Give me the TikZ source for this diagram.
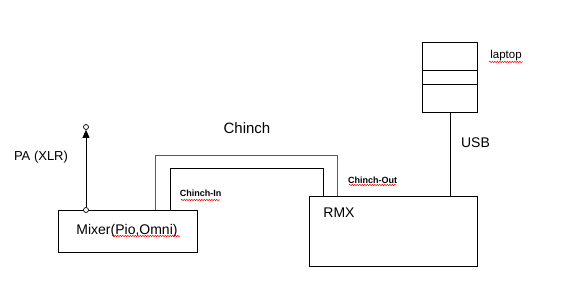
\documentclass[tikz,border=0pt]{standalone}
\usepackage{fontspec}
\setmainfont{Liberation Sans}
\usetikzlibrary{arrows.meta,decorations.pathmorphing}
\begin{document}
\begin{tikzpicture}[x=1pt,y=-1pt,
  box/.style={draw,line width=0.9pt,inner sep=0pt,anchor=north west},
  lbl/.style={font=\fontsize{14}{15}\selectfont,inner sep=0pt},
  small/.style={font=\fontsize{9}{10}\selectfont\bfseries,inner sep=0pt},
  wire/.style={line width=0.9pt},
  spell/.style={red,line width=0.5pt,decorate,decoration={snake,amplitude=0.7pt,segment length=2.5pt}},
  port/.style={circle,draw,fill=white,line width=0.7pt,inner sep=0pt,minimum size=5pt}]
\useasboundingbox (0,0) rectangle (562,288);
% boxes
\node[box,minimum width=139pt,minimum height=42pt] (mixer) at (58,210) {};
\node[lbl] (mixert) at (127,231) {Mixer(Pio,Omni)};
\node[box,minimum width=168pt,minimum height=70pt] (rmx) at (309,196) {};
\node[lbl] (rmxt) at (339,213) {RMX};
\node[box,minimum width=55pt,minimum height=70pt] (laptop) at (422,42) {};
\draw[line width=0.9pt] (422,70) -- (477,70);
\draw[line width=0.9pt] (422,84) -- (477,84);
\node[font=\fontsize{11.5}{12}\selectfont,inner sep=0pt] (laptopt) at (506,56) {laptop};
% PA arrow
\node[port] (pab) at (86,210) {};
\node[port] (pat) at (86,127) {};
\draw[wire,-{Triangle[length=8pt,width=7pt]}] (pab.north) -- (pat.south);
\node[lbl,font=\fontsize{13}{14}\selectfont] (pa) at (41,157) {PA (XLR)};
% Chinch cables
\coordinate (o1) at (155,210);
\coordinate (o2) at (155,155);
\coordinate (o3) at (337,155);
\coordinate (o4) at (337,196);
\draw[wire,black!65] (o1) -- (o2) -- (o3) -- (o4);
\coordinate (i1) at (170,210);
\coordinate (i2) at (170,168);
\coordinate (i3) at (323,168);
\coordinate (i4) at (323,196);
\draw[wire] (i1) -- (i2) -- (i3) -- (i4);
\node[font=\fontsize{15}{16}\selectfont,inner sep=0pt] (chinch) at (247,128) {Chinch};
\node[small] (cin) at (200.5,193) {Chinch-In};
\node[small] (cout) at (372.5,180) {Chinch-Out};
% USB
\draw[wire] (laptop.south) -- (laptop.south |- rmx.north);
\node[lbl] (usb) at (475.5,143) {USB};
% spellcheck underlines
\draw[spell] (112,236) -- (180,236);
\draw[spell] (181,200) -- (220,200);
\draw[spell] (349,185) -- (396,185);
\draw[spell] (489,62) -- (523,62);
\end{tikzpicture}
\end{document}
